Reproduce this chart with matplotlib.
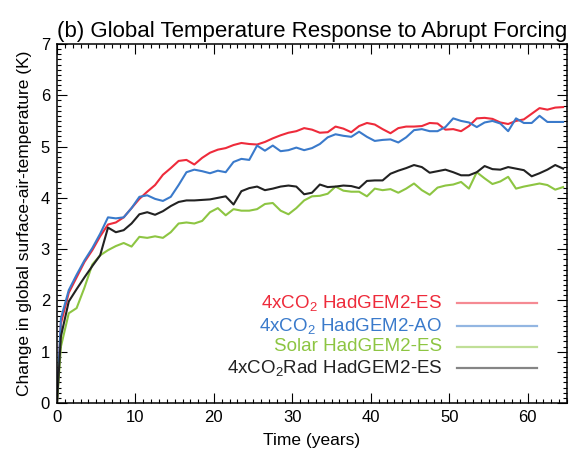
import matplotlib
matplotlib.use('Agg')
import matplotlib.pyplot as plt
import numpy as np
from matplotlib.ticker import MultipleLocator

plt.rcParams['font.family'] = ['Liberation Sans', 'DejaVu Sans']
plt.rcParams['mathtext.default'] = 'regular'

# annual means, first point is the unperturbed start
years = [0.0] + [y + 0.5 for y in range(65)]

co2_es = [0.00, 1.55, 2.15, 2.45, 2.75, 2.98, 3.25, 3.48, 3.52, 3.62,
          3.80, 3.98, 4.12, 4.25, 4.45, 4.58, 4.72, 4.74, 4.65, 4.78,
          4.88, 4.94, 4.97, 5.03, 5.07, 5.05, 5.04, 5.09, 5.16, 5.22,
          5.27, 5.30, 5.36, 5.33, 5.27, 5.28, 5.39, 5.35, 5.28, 5.40,
          5.46, 5.43, 5.34, 5.26, 5.36, 5.39, 5.39, 5.40, 5.46, 5.45,
          5.33, 5.34, 5.30, 5.40, 5.55, 5.56, 5.54, 5.47, 5.44, 5.50,
          5.53, 5.64, 5.75, 5.72, 5.76, 5.77]

co2_ao = [0.00, 1.65, 2.20, 2.50, 2.78, 3.02, 3.30, 3.62, 3.60, 3.62,
          3.80, 4.02, 4.05, 3.98, 3.94, 4.02, 4.25, 4.50, 4.55, 4.52,
          4.48, 4.53, 4.50, 4.70, 4.76, 4.74, 5.02, 4.92, 5.02, 4.91,
          4.93, 4.98, 4.93, 4.97, 5.05, 5.18, 5.24, 5.21, 5.19, 5.29,
          5.19, 5.11, 5.13, 5.14, 5.08, 5.18, 5.32, 5.34, 5.30, 5.30,
          5.38, 5.55, 5.50, 5.47, 5.38, 5.47, 5.50, 5.45, 5.30, 5.55,
          5.46, 5.46, 5.60, 5.48, 5.48, 5.48]

solar_es = [0.00, 1.10, 1.75, 1.85, 2.25, 2.70, 2.88, 2.98, 3.06, 3.12,
            3.05, 3.24, 3.22, 3.25, 3.22, 3.33, 3.50, 3.52, 3.50, 3.55,
            3.72, 3.80, 3.66, 3.78, 3.75, 3.75, 3.78, 3.88, 3.90, 3.75,
            3.68, 3.80, 3.95, 4.03, 4.04, 4.08, 4.22, 4.14, 4.12, 4.12,
            4.03, 4.18, 4.15, 4.17, 4.10, 4.18, 4.28, 4.15, 4.06, 4.20,
            4.24, 4.26, 4.31, 4.18, 4.50, 4.38, 4.27, 4.32, 4.41, 4.18,
            4.22, 4.25, 4.28, 4.25, 4.16, 4.21]

co2rad_es = [0.00, 1.30, 1.98, 2.22, 2.45, 2.67, 2.88, 3.42, 3.33, 3.37,
             3.50, 3.68, 3.72, 3.67, 3.74, 3.84, 3.92, 3.95, 3.95, 3.96,
             3.97, 4.00, 4.03, 3.87, 4.13, 4.19, 4.22, 4.15, 4.18, 4.22,
             4.24, 4.22, 4.07, 4.10, 4.26, 4.21, 4.22, 4.24, 4.23, 4.19,
             4.33, 4.34, 4.34, 4.47, 4.53, 4.58, 4.64, 4.60, 4.49, 4.52,
             4.55, 4.50, 4.44, 4.44, 4.50, 4.62, 4.56, 4.55, 4.60, 4.57,
             4.54, 4.42, 4.48, 4.55, 4.64, 4.57]

labels = ['4xCO$_2$ HadGEM2-ES', '4xCO$_2$ HadGEM2-AO',
          'Solar HadGEM2-ES', '4xCO$_2$Rad HadGEM2-ES']
colors = ['#ee2b3b', '#3a7acb', '#8dc542', '#222222']
series = [co2_es, co2_ao, solar_es, co2rad_es]

fig = plt.figure(figsize=(5.74, 4.5), dpi=100)
ax = fig.add_axes([57/574, 47/450, 510/574, 359/450])

for vals, c in zip(series, colors):
    ax.plot(years, vals, color=c, lw=1.5, solid_joinstyle='round')

ax.set_xlim(0, 65)
ax.set_ylim(0, 7)
ax.xaxis.set_major_locator(MultipleLocator(10))
ax.xaxis.set_minor_locator(MultipleLocator(1))
ax.yaxis.set_major_locator(MultipleLocator(1))
ax.yaxis.set_minor_locator(MultipleLocator(0.1))
ax.tick_params(which='both', direction='in', top=True, right=True,
               labelsize=12, width=0.8)
ax.tick_params(which='major', length=7, pad=5)
ax.tick_params(which='minor', length=3)
for sp in ax.spines.values():
    sp.set_linewidth(1.1)

ax.set_title('(b) Global Temperature Response to Abrupt Forcing',
             fontsize=16, pad=5)
ax.set_xlabel('Time (years)', fontsize=12.5, labelpad=6)
ax.set_ylabel('Change in global surface-air-temperature (K)',
              fontsize=12.5, labelpad=6)

# key drawn inside the lower right corner, text then a short segment
row_y = [0.279, 0.214, 0.156, 0.0975]
for lab, c, yy in zip(labels, colors, row_y):
    ax.text(0.755, yy, lab, transform=ax.transAxes, ha='right',
            va='center', fontsize=13.5, color=c)
    ax.plot([0.784, 0.941], [yy, yy], transform=ax.transAxes,
            color=c, lw=1.6, alpha=0.55)

fig.savefig('out.png', dpi=100)
